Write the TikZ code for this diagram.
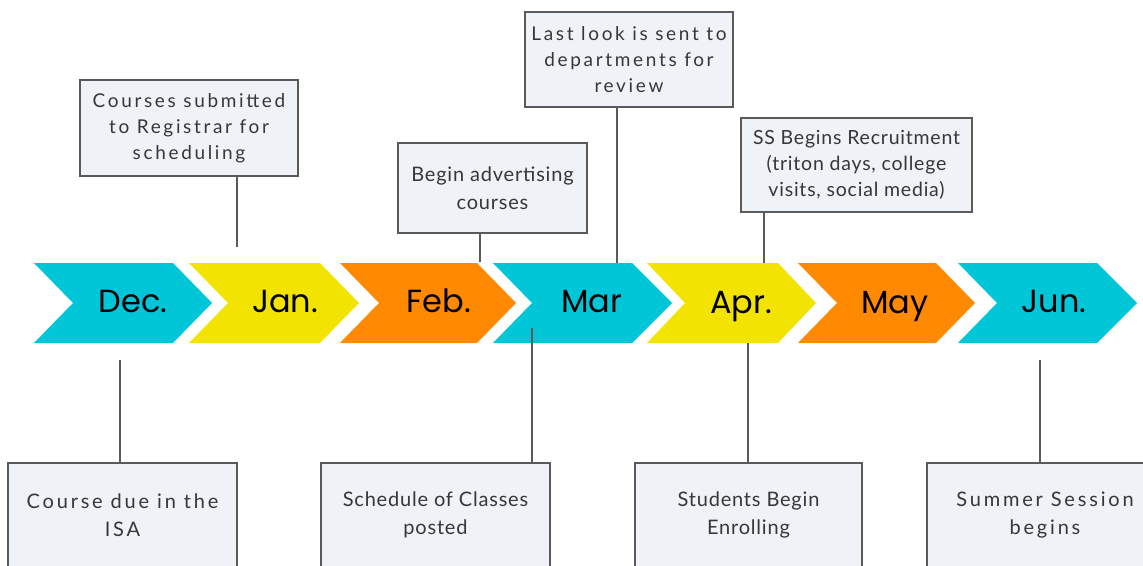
\documentclass[tikz,border=0pt]{standalone}
\usepackage{fontspec}
\setmainfont{Lato}
\newfontfamily\monthfont{Poppins}
\newfontfamily\spacedfont[LetterSpace=14]{Lato}
\newfontfamily\plainfont[LetterSpace=4]{Lato}
\definecolor{cyanc}{RGB}{0,198,216}
\definecolor{yellowc}{RGB}{242,228,0}
\definecolor{orangec}{RGB}{255,137,0}
\definecolor{boxfill}{RGB}{239,242,247}
\definecolor{boxline}{RGB}{90,90,90}
\definecolor{txt}{RGB}{55,55,55}
\newcommand{\chevron}[5]{%
  \fill[#5] (#1,263) -- (#3,263) -- (#4,303) -- (#3,343) -- (#1,343) -- (#2,303) -- cycle;}
\begin{document}
\begin{tikzpicture}[x=1pt,y=-1pt,
  month/.style={font=\monthfont\fontsize{32}{36}\selectfont, text=black, inner sep=0pt, anchor=base},
  infobox/.style={draw=boxline, fill=boxfill, line width=1.2pt, align=center, text=txt, inner sep=0pt},
  spaced/.style={font=\spacedfont\fontsize{19}{26}\selectfont},
  spacedbig/.style={font=\spacedfont\fontsize{20}{28}\selectfont},
  plain/.style={font=\plainfont\fontsize{20}{28}\selectfont},
  plaintight/.style={font=\plainfont\fontsize{19.5}{26}\selectfont},
  conn/.style={draw=boxline, line width=1.2pt}]
\useasboundingbox (0,0) rectangle (1143,565);
\clip (0,0) rectangle (1143,565);
% chevrons
\chevron{34}{73}{173}{212}{cyanc}
\chevron{189}{228}{320}{359}{yellowc}
\chevron{340}{379}{477}{516}{orangec}
\chevron{493}{532}{632}{672}{cyanc}
\chevron{647}{685}{778}{816}{yellowc}
\chevron{798}{837}{936}{975}{orangec}
\chevron{958}{997}{1097}{1137}{cyanc}
% month labels
\node[month] (dec) at (133,312) {Dec.};
\node[month] (jan) at (285,312) {Jan.};
\node[month] (feb) at (439,312) {Feb.};
\node[month] (mar) at (592,312) {Mar};
\node[month] (apr) at (741,313) {Apr.};
\node[month] (may) at (895,313) {May};
\node[month] (jun) at (1054,312) {Jun.};
% connector end points
\coordinate (c1) at (237,247);
\coordinate (c2) at (480,262);
\coordinate (c3) at (617,263);
\coordinate (c4) at (764,263);
\coordinate (c5) at (120,360);
\coordinate (c6) at (532,328);
\coordinate (c7) at (748,343);
\coordinate (c8) at (1040,360);
% top boxes
\node[infobox, spaced, minimum width=218pt, minimum height=96pt] (b1) at (189,128)
  {Courses submitted\\to Registrar for\\scheduling};
\node[infobox, plain, minimum width=189pt, minimum height=90pt] (b2) at (492.5,188)
  {Begin advertising\\courses};
\node[infobox, spaced, minimum width=208pt, minimum height=95pt] (b3) at (629,59.5)
  {Last look is sent to\\departments for\\review};
\node[infobox, plaintight, minimum width=231pt, minimum height=94pt] (b4) at (856.5,165)
  {SS Begins Recruitment\\(triton days, college\\visits, social media)};
% bottom boxes
\node[infobox, spacedbig, minimum width=229pt, minimum height=104pt] (b5) at (122.5,515)
  {Course due in the\\ISA};
\node[infobox, plain, minimum width=229pt, minimum height=104pt] (b6) at (435.5,515)
  {Schedule of Classes\\posted};
\node[infobox, plain, minimum width=227pt, minimum height=104pt] (b7) at (748.5,515)
  {Students Begin\\Enrolling};
\node[infobox, spacedbig, minimum width=236pt, minimum height=104pt] (b8) at (1045,515)
  {Summer Session\\begins};
% connectors
\draw[conn] (c1 |- b1.south) -- (c1);
\draw[conn] (c2 |- b2.south) -- (c2);
\draw[conn] (c3 |- b3.south) -- (c3);
\draw[conn] (c4 |- b4.south) -- (c4);
\draw[conn] (c5) -- (c5 |- b5.north);
\draw[conn] (c6) -- (c6 |- b6.north);
\draw[conn] (c7) -- (c7 |- b7.north);
\draw[conn] (c8) -- (c8 |- b8.north);
\end{tikzpicture}
\end{document}
